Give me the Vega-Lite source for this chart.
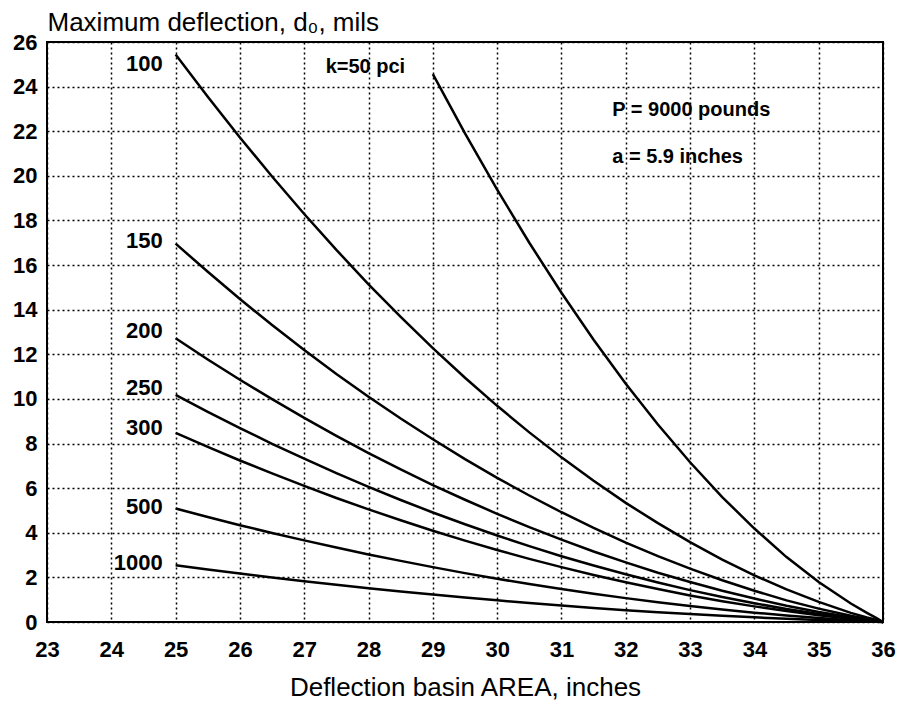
{
  "$schema": "https://vega.github.io/schema/vega-lite/v6.json",
  "width": 836,
  "height": 580,
  "autosize": {"type": "none"},
  "padding": {"left": 47, "top": 42, "right": 17, "bottom": 84},
  "background": "white",
  "config": {
    "font": "Liberation Sans",
    "view": {"stroke": "black", "strokeWidth": 2}
  },
  "layer": [
    {
      "data": {"values": [
        {"area":25,"100":25.44,"150":16.96,"200":12.72,"250":10.18,"300":8.48,"500":5.09,"1000":2.54},
        {"area":25.5,"100":23.55,"150":15.70,"200":11.77,"250":9.42,"300":7.85,"500":4.71,"1000":2.35},
        {"area":26,"100":21.72,"150":14.48,"200":10.86,"250":8.69,"300":7.24,"500":4.34,"1000":2.17},
        {"area":26.5,"100":19.97,"150":13.31,"200":9.99,"250":7.99,"300":6.66,"500":3.99,"1000":2.00},
        {"area":27,"100":18.29,"150":12.19,"200":9.15,"250":7.32,"300":6.10,"500":3.66,"1000":1.83},
        {"area":27.5,"100":16.68,"150":11.12,"200":8.34,"250":6.67,"300":5.56,"500":3.34,"1000":1.67},
        {"area":28,"100":15.14,"150":10.10,"200":7.57,"250":6.06,"300":5.05,"500":3.03,"1000":1.51},
        {"area":28.5,"100":13.68,"150":9.12,"200":6.84,"250":5.47,"300":4.56,"500":2.74,"1000":1.37},
        {"area":29,"50":24.56,"100":12.28,"150":8.19,"200":6.14,"250":4.91,"300":4.09,"500":2.46,"1000":1.23},
        {"area":29.5,"50":21.90,"100":10.95,"150":7.30,"200":5.48,"250":4.38,"300":3.65,"500":2.19,"1000":1.10},
        {"area":30,"50":19.38,"100":9.69,"150":6.46,"200":4.85,"250":3.88,"300":3.23,"500":1.94,"1000":0.97},
        {"area":30.5,"50":17.00,"100":8.50,"150":5.67,"200":4.25,"250":3.40,"300":2.83,"500":1.70,"1000":0.85},
        {"area":31,"50":14.76,"100":7.38,"150":4.92,"200":3.69,"250":2.95,"300":2.46,"500":1.48,"1000":0.74},
        {"area":31.5,"50":12.65,"100":6.33,"150":4.22,"200":3.16,"250":2.53,"300":2.11,"500":1.27,"1000":0.63},
        {"area":32,"50":10.68,"100":5.34,"150":3.56,"200":2.67,"250":2.14,"300":1.78,"500":1.07,"1000":0.53},
        {"area":32.5,"50":8.85,"100":4.43,"150":2.95,"200":2.21,"250":1.77,"300":1.48,"500":0.89,"1000":0.44},
        {"area":33,"50":7.16,"100":3.58,"150":2.39,"200":1.79,"250":1.43,"300":1.19,"500":0.72,"1000":0.36},
        {"area":33.5,"50":5.60,"100":2.80,"150":1.87,"200":1.40,"250":1.12,"300":0.93,"500":0.56,"1000":0.28},
        {"area":34,"50":4.19,"100":2.09,"150":1.40,"200":1.05,"250":0.84,"300":0.70,"500":0.42,"1000":0.21},
        {"area":34.5,"50":2.91,"100":1.46,"150":0.97,"200":0.73,"250":0.58,"300":0.49,"500":0.29,"1000":0.15},
        {"area":35,"50":1.79,"100":0.90,"150":0.60,"200":0.45,"250":0.36,"300":0.30,"500":0.18,"1000":0.09},
        {"area":35.5,"50":0.83,"100":0.41,"150":0.28,"200":0.21,"250":0.17,"300":0.14,"500":0.08,"1000":0.04},
        {"area":35.75,"50":0.41,"100":0.20,"150":0.14,"200":0.10,"250":0.08,"300":0.07,"500":0.04,"1000":0.02},
        {"area":35.9,"50":0.17,"100":0.09,"150":0.06,"200":0.04,"250":0.03,"300":0.03,"500":0.02,"1000":0.01},
        {"area":36,"50":0,"100":0,"150":0,"200":0,"250":0,"300":0,"500":0,"1000":0}
      ]},
      "transform": [{"fold": ["50","100","150","200","250","300","500","1000"], "as": ["k","d0"]}],
      "mark": {"type": "line", "color": "black", "strokeWidth": 2.5},
      "encoding": {
        "x": {
          "field": "area", "type": "quantitative",
          "scale": {"domain": [23, 36], "nice": false, "zero": false},
          "axis": {
            "values": [23,24,25,26,27,28,29,30,31,32,33,34,35,36],
            "format": "d",
            "title": "Deflection basin AREA, inches",
            "titleFont": "Liberation Sans", "titleFontSize": 26, "titleFontWeight": "normal", "titleColor": "black",
            "titlePadding": 14,
            "labelFont": "Liberation Sans", "labelFontSize": 22, "labelFontWeight": "bold", "labelColor": "black",
            "labelPadding": 17, "labelFlush": false,
            "ticks": false, "domain": false,
            "grid": true, "gridColor": "black", "gridOpacity": 1, "gridWidth": 1.5, "gridDash": [2, 3]
          }
        },
        "y": {
          "field": "d0", "type": "quantitative",
          "scale": {"domain": [0, 26], "nice": false},
          "axis": {
            "values": [0,2,4,6,8,10,12,14,16,18,20,22,24,26],
            "format": "d",
            "title": "Maximum deflection, d₀, mils",
            "titleFont": "Liberation Sans", "titleFontSize": 26, "titleFontWeight": "normal", "titleColor": "black",
            "titleAngle": 0, "titleAlign": "left", "titleBaseline": "alphabetic",
            "titleX": 0, "titleY": -12,
            "labelFont": "Liberation Sans", "labelFontSize": 22, "labelFontWeight": "bold", "labelColor": "black",
            "labelPadding": 10, "labelFlush": false,
            "ticks": false, "domain": false,
            "grid": true, "gridColor": "black", "gridOpacity": 1, "gridWidth": 1.5, "gridDash": [2, 3]
          }
        },
        "detail": {"field": "k"}
      }
    },
    {
      "data": {"values": [
        {"t":"100","area":24.8,"d0":25.0},
        {"t":"150","area":24.8,"d0":17.1},
        {"t":"200","area":24.8,"d0":13.05},
        {"t":"250","area":24.8,"d0":10.5},
        {"t":"300","area":24.8,"d0":8.7},
        {"t":"500","area":24.8,"d0":5.15},
        {"t":"1000","area":24.8,"d0":2.65}
      ]},
      "mark": {"type": "text", "align": "right", "baseline": "middle", "font": "Liberation Sans", "fontSize": 22, "fontWeight": "bold", "color": "black"},
      "encoding": {
        "x": {"field": "area", "type": "quantitative"},
        "y": {"field": "d0", "type": "quantitative"},
        "text": {"field": "t"}
      }
    },
    {
      "data": {"values": [
        {"t":"k=50 pci","area":28.57,"d0":24.9}
      ]},
      "mark": {"type": "text", "align": "right", "baseline": "middle", "font": "Liberation Sans", "fontSize": 20, "fontWeight": "bold", "color": "black"},
      "encoding": {
        "x": {"field": "area", "type": "quantitative"},
        "y": {"field": "d0", "type": "quantitative"},
        "text": {"field": "t"}
      }
    },
    {
      "data": {"values": [
        {"t":"P = 9000 pounds","area":31.79,"d0":22.96},
        {"t":"a = 5.9 inches","area":31.79,"d0":20.85}
      ]},
      "mark": {"type": "text", "align": "left", "baseline": "middle", "font": "Liberation Sans", "fontSize": 20, "fontWeight": "bold", "color": "black"},
      "encoding": {
        "x": {"field": "area", "type": "quantitative"},
        "y": {"field": "d0", "type": "quantitative"},
        "text": {"field": "t"}
      }
    }
  ]
}
